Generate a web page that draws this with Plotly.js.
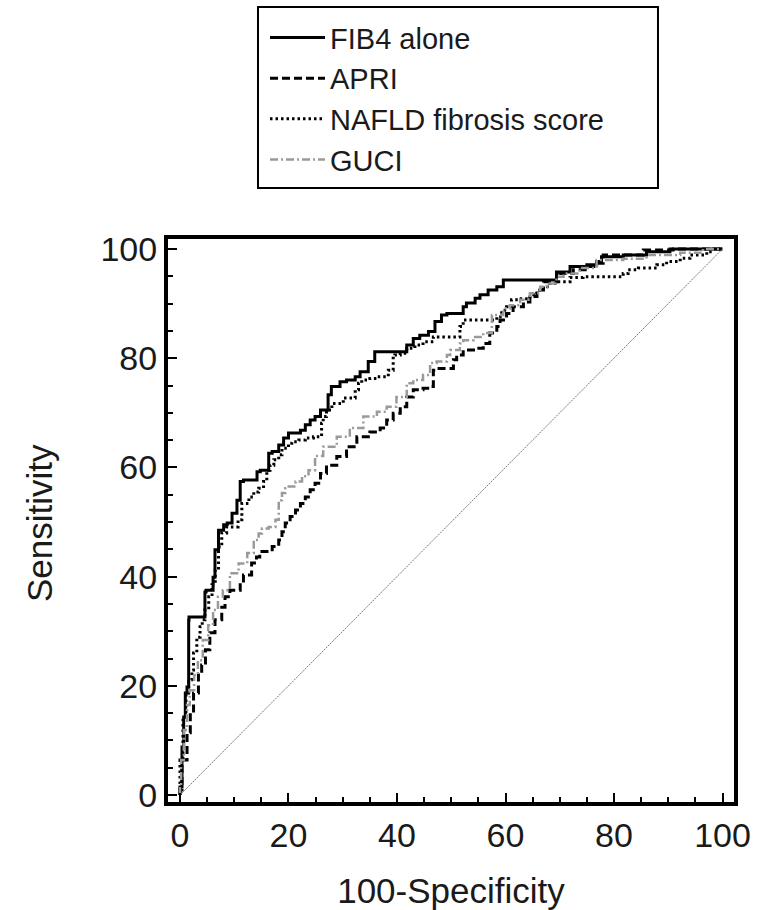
<!DOCTYPE html>
<html>
<head>
<meta charset="utf-8">
<script src="https://cdn.plot.ly/plotly-3.0.1.min.js"></script>
<style>html,body{margin:0;padding:0;background:#fff;}#chart{width:769px;height:910px;}</style>
</head>
<body>
<div id="chart"></div>
<script>
// ---- Data ----
const seriesNames = ["FIB4 alone", "APRI", "NAFLD fibrosis score", "GUCI"];

const fib4X = [0,0.37,0.68,0.98,1.29,1.6,1.66,2.2,4.6,4.8,6.1,6.45,7.1,8.05,8.7,9.6,10.5,11.1,11.7,14.2,14.8,16.35,17.0,18.2,19.1,20.0,21.0,22.2,23.1,24.0,24.9,25.9,27.3,27.9,29.5,30.7,32.3,33.2,34.7,35.9,37.8,41.8,43.0,44.2,45.8,47.0,48.2,49.2,52.2,52.8,54.4,55.3,56.8,58.4,59.6,60.5,69.4,70.0,71.9,75.0,76.8,77.7,81.7,86.0,90.3,90.9,100];
const fib4Y = [0,1.47,8.8,14.3,18.7,19.8,32.0,32.6,32.6,37.2,37.5,39.9,44.9,48.5,49.5,49.8,51.6,54.0,57.4,57.7,59.2,59.5,62.6,62.9,64.1,65.4,66.3,66.3,66.8,67.8,68.7,69.3,70.5,73.3,74.8,75.7,76.0,76.6,77.5,79.4,81.2,81.2,82.4,83.6,84.2,84.9,86.7,87.9,88.2,89.4,90.1,91.0,91.6,92.5,93.1,94.3,94.3,95.8,95.8,96.8,97.1,97.7,98.6,98.9,99.5,100,100];

const apriX = [0,0.37,1.3,1.9,2.5,3.4,4.0,4.7,5.5,6.45,7.7,8.3,9.2,11.1,11.7,13.2,14.1,14.7,17.0,18.2,18.8,19.4,20.3,21.3,22.2,23.1,24.0,24.9,25.9,27.0,28.9,30.7,32.6,35.0,36.9,38.1,39.3,40.6,41.8,43.0,44.8,46.1,46.7,47.3,50.4,51.0,52.2,54.1,55.9,57.1,58.4,59.0,60.2,61.4,63.3,64.5,65.8,67.0,69.4,70.0,72.5,75.0,76.8,78.0,81.7,85.4,90.9,100];
const apriY = [0,0.9,6.4,11.4,15.0,18.7,22.3,23.8,26.6,29.7,32.1,34.4,36.3,37.5,38.8,40.3,42.5,43.6,44.6,45.5,46.7,48.2,49.8,51.0,52.2,53.4,54.6,55.9,57.1,58.9,60.4,62.0,63.8,65.6,66.5,67.2,68.7,69.9,71.1,72.9,74.2,74.5,74.8,77.8,78.1,79.7,80.6,81.5,81.8,82.7,84.6,85.8,87.0,88.2,89.4,90.3,91.3,92.5,94.0,95.2,95.5,96.2,96.8,97.4,98.9,98.9,99.8,100];

const naflX = [0,0.55,1.1,1.6,2.2,2.5,3.1,3.7,4.1,4.6,5.3,5.9,6.5,7.1,7.7,8.6,10.7,11.4,12.7,13.6,14.5,15.4,16.0,16.6,17.3,18.2,18.8,20.0,20.6,21.9,23.1,24.6,26.1,26.4,27.0,28.0,30.1,32.3,32.9,33.5,35.0,36.3,38.4,39.3,39.6,40.6,41.8,43.3,44.8,46.7,48.5,51.6,52.2,52.5,58.4,59.3,60.2,61.1,62.4,64.5,65.8,67.0,68.2,69.4,71.9,74.3,81.7,82.6,84.5,87.9,89.7,92.2,94.0,97.1,98.3,100];
const naflY = [0,6.4,13.7,18.7,21.1,22.9,26.0,28.9,30.8,32.1,33.9,36.3,38.5,41.2,45.4,48.0,49.1,50.4,53.4,54.6,55.5,56.2,57.4,59.5,60.4,61.4,62.3,63.5,64.4,64.7,65.0,65.4,65.6,68.1,69.3,70.5,71.7,72.7,74.2,75.4,76.0,76.3,76.6,77.8,80.3,80.6,80.9,81.8,82.4,83.0,83.9,83.9,85.8,87.0,87.0,87.6,88.8,89.4,90.7,90.9,91.6,92.5,93.1,93.7,94.0,94.8,94.9,95.5,96.2,96.5,97.1,97.7,98.3,98.9,99.5,100];

const guciX = [0,0.2,0.7,1.3,1.8,2.6,3.3,4.2,5.2,6.1,7.0,7.9,9.2,10.8,12.4,13.6,14.5,15.1,16.35,17.6,18.2,18.8,19.4,19.7,21.3,22.5,23.7,24.9,26.4,28.9,31.3,33.8,36.3,38.1,39.9,41.8,43.0,44.8,46.1,47.3,49.2,49.8,51.6,52.2,54.1,55.9,57.5,59.6,60.8,62.7,64.5,66.4,67.6,69.4,70.7,73.7,76.8,81.7,86.0,92.2,96.4,100];
const guciY = [0,1.8,6.4,11.9,16.5,19.2,22.0,24.7,28.4,31.1,33.9,36.3,37.5,40.6,42.4,44.3,46.7,47.9,48.8,49.1,50.4,54.0,55.3,56.2,56.5,57.4,58.4,59.5,62.1,63.8,65.6,67.2,69.3,70.2,71.1,72.9,75.4,76.0,76.9,79.1,79.4,80.6,81.5,82.7,83.3,83.9,84.6,87.9,89.1,89.7,90.7,91.9,93.1,93.7,94.9,95.5,96.5,98.0,98.2,98.9,99.3,100];

const refX = [0, 100];
const refY = [0, 100];

const xTickVals = [0, 20, 40, 60, 80, 100];
const yTickVals = [0, 20, 40, 60, 80, 100];
const xTitle = "100-Specificity";
const yTitle = "Sensitivity";

// ---- Traces ----
const FONT = "Liberation Sans, Arial, sans-serif";
const traces = [
  {x: fib4X, y: fib4Y, name: seriesNames[0], mode: "lines",
   line: {color: "#000", width: 3, shape: "vh"}},
  {x: apriX, y: apriY, name: seriesNames[1], mode: "lines",
   line: {color: "#000", width: 3, dash: "8px,4px", shape: "vh"}},
  {x: naflX, y: naflY, name: seriesNames[2], mode: "lines",
   line: {color: "#000", width: 3, dash: "2.5px,3px", shape: "vh"}},
  {x: guciX, y: guciY, name: seriesNames[3], mode: "lines",
   line: {color: "#9a9a9a", width: 2.5, dash: "8px,3px,2px,3px", shape: "vh"}},
  {x: refX, y: refY, mode: "lines", showlegend: false, hoverinfo: "skip",
   line: {color: "#777", width: 1, dash: "2px,1px"}}
];

const axisCommon = {
  showline: true, linecolor: "#000", linewidth: 4, mirror: true,
  showgrid: false, zeroline: false, automargin: false,
  ticks: "inside", ticklen: 9, tickwidth: 2, tickcolor: "#000",
  tickfont: {family: FONT, size: 34, color: "#1a1a1a"},
  minor: {dtick: 5, ticks: "inside", ticklen: 5, tickwidth: 2, tickcolor: "#000", showgrid: false}
};

const layout = {
  width: 769, height: 910,
  paper_bgcolor: "#fff", plot_bgcolor: "#fff",
  margin: {l: 168, r: 35, t: 239, b: 108, autoexpand: false},
  font: {family: FONT, color: "#1a1a1a"},
  xaxis: Object.assign({}, axisCommon, {
    range: [-2.21, 102.12], tickvals: xTickVals, ticktext: xTickVals.map(String),
    title: {text: xTitle, font: {family: FONT, size: 35, color: "#1a1a1a"}}
  }),
  yaxis: Object.assign({}, axisCommon, {
    range: [-1.28, 101.83], tickvals: yTickVals, ticktext: yTickVals.map(String)
  }),
  annotations: [
    {text: yTitle, xref: "paper", yref: "paper", x: -0.226, y: 0.4956,
     xanchor: "center", yanchor: "middle", textangle: -90, showarrow: false,
     font: {family: FONT, size: 35, color: "#1a1a1a"}}
  ],
  showlegend: true,
  legend: {
    x: 0.1714, y: 1.403, xanchor: "left", yanchor: "top",
    borderwidth: 0, bgcolor: "rgba(0,0,0,0)",
    font: {family: FONT, size: 29, color: "#1a1a1a"},
    itemwidth: 55, traceorder: "normal"
  },
  shapes: [
    {type: "rect", xref: "paper", yref: "paper",
     x0: 0.159, x1: 0.8657, y0: 1.0906, y1: 1.412,
     line: {color: "#000", width: 2}, fillcolor: "rgba(0,0,0,0)", layer: "below"}
  ]
};

Plotly.newPlot("chart", traces, layout, {staticPlot: true, displayModeBar: false});
</script>
</body>
</html>
